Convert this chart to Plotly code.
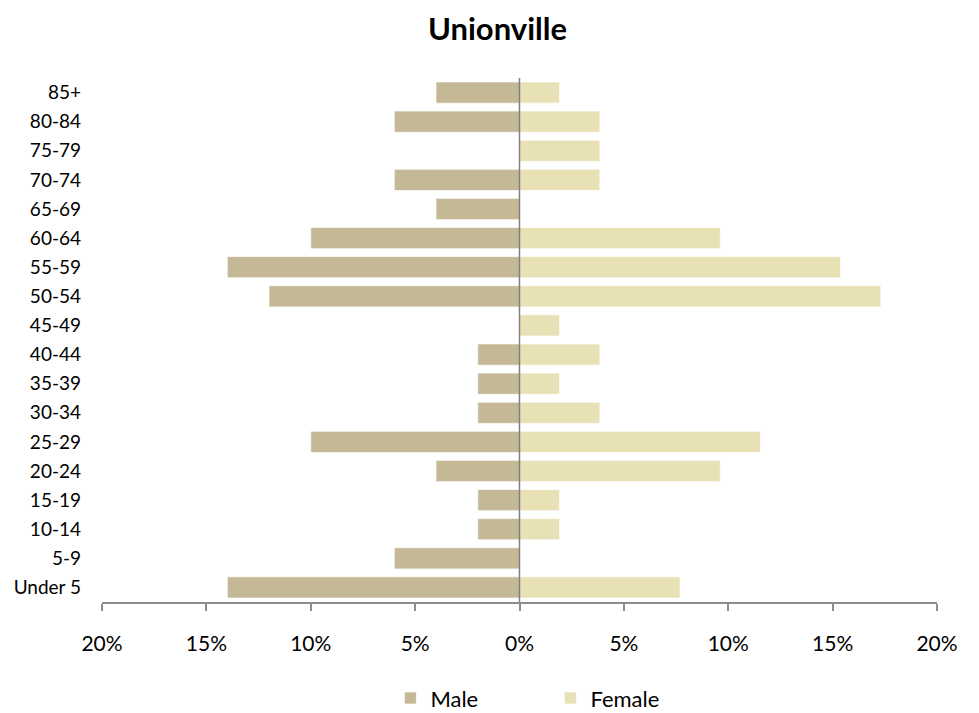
import plotly.graph_objects as go

age_groups = ["Under 5", "5-9", "10-14", "15-19", "20-24", "25-29", "30-34", "35-39",
              "40-44", "45-49", "50-54", "55-59", "60-64", "65-69", "70-74", "75-79",
              "80-84", "85+"]
male_pct = [14, 6, 2, 2, 4, 10, 2, 2, 2, 0, 12, 14, 10, 4, 6, 0, 6, 4]
female_pct = [7.69, 0, 1.92, 1.92, 9.62, 11.54, 3.85, 1.92, 3.85, 1.92, 17.31, 15.38,
              9.62, 0, 3.85, 3.85, 3.85, 1.92]
tick_vals = [-20, -15, -10, -5, 0, 5, 10, 15, 20]
tick_text = ["20%", "15%", "10%", "5%", "0%", "5%", "10%", "15%", "20%"]

male_color = "#C4B896"
female_color = "#E8E1B6"
font_family = "Lato, 'Open Sans', sans-serif"

fig = go.Figure()
fig.add_trace(go.Bar(
    y=age_groups, x=[-v for v in male_pct], orientation="h", name="Male",
    marker=dict(color=male_color, line=dict(color="white", width=0.7)),
))
fig.add_trace(go.Bar(
    y=age_groups, x=female_pct, orientation="h", name="Female",
    marker=dict(color=female_color, line=dict(color="white", width=0.7)),
))

fig.update_layout(
    width=979, height=713,
    barmode="relative", bargap=0.27,
    plot_bgcolor="white", paper_bgcolor="white",
    margin=dict(l=94, r=50, t=70, b=119),
    font=dict(family=font_family, color="#000000"),
    title=dict(text="<b>Unionville</b>", x=0.5, xanchor="center", y=0.971, yanchor="middle",
               font=dict(size=31, family=font_family, color="#000000")),
    showlegend=True,
    legend=dict(orientation="h", x=0.537, xanchor="center", xref="paper",
                y=0.032, yanchor="middle", yref="container",
                font=dict(size=22), entrywidth=115, traceorder="normal"),
    xaxis=dict(range=[-20, 20], tickvals=tick_vals, ticktext=tick_text, automargin=False,
               showgrid=False, zeroline=False, showline=True, linecolor="#8C8C8C",
               linewidth=1.5, ticks="outside", ticklen=7, tickcolor="#8C8C8C",
               tickwidth=1.5, tickfont=dict(size=21), ticklabelstandoff=15, fixedrange=True),
    yaxis=dict(categoryorder="array", categoryarray=age_groups, showgrid=False,
               automargin=False, zeroline=False, showline=False, ticks="",
               tickfont=dict(size=19), ticklabelstandoff=20, fixedrange=True),
    shapes=[dict(type="line", xref="x", yref="paper", x0=0, x1=0, y0=0, y1=1,
                 line=dict(color="#808080", width=1.5), layer="above")],
)

fig.write_html("out.html")
